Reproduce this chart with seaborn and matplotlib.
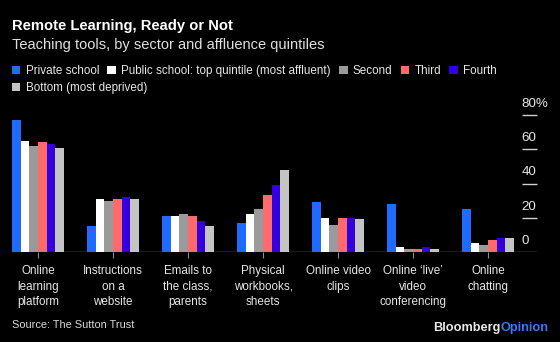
import matplotlib
matplotlib.use("Agg")
import matplotlib.pyplot as plt
import matplotlib.patches as mpatches
import seaborn as sns
import pandas as pd

# Teaching tools used, share of teachers (%)
tools = [
    "Online\nlearning\nplatform",
    "Instructions\non a\nwebsite",
    "Emails to\nthe class,\nparents",
    "Physical\nworkbooks,\nsheets",
    "Online video\nclips",
    "Online \u2018live\u2019\nvideo\nconferencing",
    "Online\nchatting",
]
groups = [
    "Private school",
    "Public school: top quintile (most affluent)",
    "Second",
    "Third",
    "Fourth",
    "Bottom (most deprived)",
]
private_school = [77, 15, 21, 17, 29, 28, 25]
top_quintile = [65, 31, 21, 22, 20, 3, 5]
second = [62, 30, 22, 25, 16, 2, 4]
third = [64, 31, 21, 33, 20, 2, 7]
fourth = [63, 32, 18, 39, 20, 3, 8]
bottom = [61, 31, 15, 48, 19, 2, 8]
y_ticks = [0, 20, 40, 60, 80]
y_tick_labels = ["0", "20", "40", "60", "80%"]

colors = ["#1F6BFF", "#FFFFFF", "#9A9A9A", "#FF6B6B", "#3300DD", "#C4C4C4"]

series = [private_school, top_quintile, second, third, fourth, bottom]
df = pd.DataFrame(
    [(t, g, v) for g, vals in zip(groups, series) for t, v in zip(tools, vals)],
    columns=["tool", "group", "value"],
)

sns.set_theme(style="dark")
plt.rcParams["font.family"] = ["Liberation Sans", "DejaVu Sans"]

W, H = 560, 342
fig = plt.figure(figsize=(W / 100, H / 100), dpi=100, facecolor="black")

# axes placed in pixel terms: x 12..537, baseline at y=252, 80% at y=115
ax = fig.add_axes([12 / W, 1 - 252 / H, 525 / W, (252 - 115) / H])
ax.set_facecolor("black")

sns.barplot(
    data=df, x="tool", y="value", hue="group", hue_order=groups,
    order=tools, palette=colors, saturation=1, width=0.69,
    linewidth=0, legend=False, errorbar=None, ax=ax,
)

ax.set_xlim(-0.347, 6.653)
ax.set_ylim(0, 80)
for s in ax.spines.values():
    s.set_visible(False)
ax.grid(False)

# baseline
ax.axhline(0, color="#8a8a8a", lw=1.0, zorder=0.5)

# x ticks and labels
ax.set_xlabel("")
ax.set_ylabel("")
ax.set_xticks(range(len(tools)))
ax.set_xticklabels(tools, color="#e6e6e6", fontsize=8.4, linespacing=1.38, va="top")
ax.tick_params(axis="x", length=4, width=0.8, color="#8a8a8a", pad=5.5, bottom=True)

# short right-side gridlines with labels above them
ax.set_yticks([])
for v, lab in zip(y_ticks, y_tick_labels):
    if v > 0:
        ax.plot([0.9705, 1.0], [v, v], transform=ax.get_yaxis_transform(),
                color="#d0d0d0", lw=1.0, clip_on=False, solid_capstyle="butt")
    ax.annotate(lab, xy=(0.9705, v), xycoords=ax.get_yaxis_transform(),
                xytext=(0, 8.0), textcoords="offset points",
                ha="left", va="center", color="#e6e6e6", fontsize=9.6)

# title and subtitle
fig.text(12 / W, 1 - 26 / H, "Remote Learning, Ready or Not", color="white",
         fontsize=10.6, fontweight="bold", ha="left", va="center")
fig.text(12 / W, 1 - 45 / H, "Teaching tools, by sector and affluence quintiles",
         color="#e0e0e0", fontsize=10.5, ha="left", va="center")

# legend, two rows
handles = [mpatches.Patch(facecolor=c, edgecolor="none") for c in colors]
leg_kw = dict(frameon=False, fontsize=8.4, handlelength=0.75, handleheight=0.75,
              handletextpad=0.45, columnspacing=0.7, borderaxespad=0,
              borderpad=0, labelcolor="#e6e6e6", loc="center left")
leg1 = fig.legend(handles[:5], groups[:5], ncol=5,
                  bbox_to_anchor=(11.5 / W, 1 - 71 / H), **leg_kw)
leg2 = fig.legend(handles[5:], groups[5:], ncol=1,
                  bbox_to_anchor=(11.5 / W, 1 - 88 / H), **leg_kw)

# footer
fig.text(12 / W, 1 - 325 / H, "Source: The Sutton Trust", color="#d8d8d8",
         fontsize=7.9, ha="left", va="center")
t1 = fig.text(433 / W, 1 - 328 / H, "Bloomberg", color="#e8e8e8",
              fontsize=9.2, fontweight="bold", ha="left", va="center")
fig.canvas.draw()
bb = t1.get_window_extent()
fig.text(bb.x1 / W, 1 - 328 / H, "Opinion", color="#2F7BFF",
         fontsize=9.2, fontweight="bold", ha="left", va="center")

fig.savefig("out.png", dpi=100, facecolor="black")
